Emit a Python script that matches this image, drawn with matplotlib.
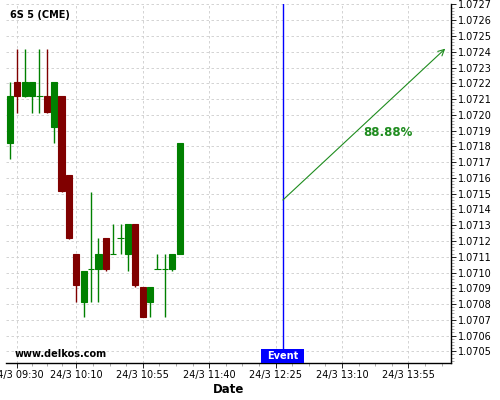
import datetime as dt
import numpy as np
import matplotlib
matplotlib.use('Agg')
import matplotlib.pyplot as plt
import matplotlib.dates as mdates
import matplotlib.transforms as mtransforms
from matplotlib.patches import Rectangle
from matplotlib.ticker import MultipleLocator, AutoMinorLocator, FormatStrFormatter, FixedLocator, FuncFormatter

# 5-minute candles, 6S (CME), 24/3
day = dt.date(2017, 3, 24)
times = ['09:25', '09:30', '09:35', '09:40', '09:45', '09:50', '09:55', '10:00',
         '10:05', '10:10', '10:15', '10:20', '10:25', '10:30', '10:35', '10:40',
         '10:45', '10:50', '10:55', '11:00', '11:05', '11:10', '11:15', '11:20']
opens = [1.07182, 1.07221, 1.07212, 1.07212, 1.07212, 1.07212, 1.07192, 1.07212,
         1.07162, 1.07112, 1.07081, 1.07102, 1.07102, 1.07122, 1.07112, 1.07122,
         1.07112, 1.07131, 1.07091, 1.07081, 1.07102, 1.07102, 1.07102, 1.07112]
highs = [1.07221, 1.07242, 1.07242, 1.07221, 1.07242, 1.07242, 1.07221, 1.07212,
         1.07162, 1.07112, 1.07101, 1.07151, 1.07122, 1.07122, 1.07131, 1.07131,
         1.07131, 1.07131, 1.07091, 1.07091, 1.07112, 1.07112, 1.07112, 1.07182]
lows = [1.07172, 1.07201, 1.07211, 1.07201, 1.07201, 1.07201, 1.07182, 1.07151,
        1.07121, 1.07081, 1.07072, 1.07081, 1.07081, 1.07101, 1.07112, 1.07112,
        1.07101, 1.07091, 1.07072, 1.07072, 1.07102, 1.07072, 1.07101, 1.07112]
closes = [1.07212, 1.07212, 1.07221, 1.07221, 1.07212, 1.07202, 1.07221, 1.07152,
          1.07122, 1.07092, 1.07101, 1.07102, 1.07112, 1.07102, 1.07112, 1.07122,
          1.07131, 1.07092, 1.07072, 1.07091, 1.07102, 1.07102, 1.07112, 1.07182]

event_time = '12:30'
arrow_start = ('12:30', 1.07146)
arrow_end = ('14:20', 1.07242)
arrow_text = ('13:41', 1.07189, '88.88%')

tick_times = ['09:30', '10:10', '10:55', '11:40', '12:25', '13:10', '13:55']


def to_num(hhmm):
    h, m = hhmm.split(':')
    return mdates.date2num(dt.datetime.combine(day, dt.time(int(h), int(m))))


x = np.array([to_num(t) for t in times])
o = np.array(opens)
h = np.array(highs)
l = np.array(lows)
c = np.array(closes)
colors = np.where(c >= o, '#008000', '#800000')

fig = plt.figure(figsize=(5, 4), dpi=100)
ax = fig.add_axes([0.0114, 0.0925, 0.8906, 0.8975])
ax.set_axisbelow(True)

minute = 1.0 / 1440
ax.vlines(x, l, h, colors=colors, linewidth=1, zorder=2)
ax.bar(x, c - o, width=4.2 * minute, bottom=o, color=colors, edgecolor=colors,
       linewidth=0.8, zorder=3)

# event marker
ex = to_num(event_time)
ax.axvline(ex, color='blue', linewidth=1, zorder=4)
trans = mtransforms.blended_transform_factory(ax.transData, ax.transAxes)
ax.add_patch(Rectangle((ex - 14.8 * minute, 0), 29.3 * minute, 0.039,
                       transform=trans, facecolor='blue', edgecolor='none', zorder=5))
ax.text(ex, 0.0195, 'Event', transform=trans, ha='center', va='center',
        color='white', fontsize=7, fontweight='bold', zorder=6)

# projection arrow
ax.annotate('', xy=(to_num(arrow_end[0]), arrow_end[1]),
            xytext=(to_num(arrow_start[0]), arrow_start[1]),
            arrowprops=dict(arrowstyle='->', color='#1e8c1e', lw=0.8,
                            mutation_scale=11, shrinkA=0, shrinkB=0), zorder=4)
ax.text(to_num(arrow_text[0]), arrow_text[1], arrow_text[2], ha='center', va='center',
        color='#1e8c1e', fontsize=8.5, fontweight='bold')

ax.text(0.0097, 0.969, '6S 5 (CME)', transform=ax.transAxes, fontsize=7,
        fontweight='bold', va='center', ha='left')
ax.text(0.021, 0.025, 'www.delkos.com', transform=ax.transAxes, fontsize=7,
        fontweight='bold', va='center', ha='left')

# axes limits and ticks
ax.set_xlim(to_num('09:30') - 7.86 * minute, to_num('09:30') + 293.9 * minute)
ax.set_ylim(1.070426, 1.072703)

major = [to_num(t) for t in tick_times]
minor = []
for a, b in zip(major[:-1], major[1:]):
    minor += list(np.linspace(a, b, 5)[1:-1])
step = (major[-1] - major[-2]) / 4
minor += [major[-1] + step, major[-1] + 2 * step]
ax.xaxis.set_major_locator(FixedLocator(major))
ax.xaxis.set_minor_locator(FixedLocator(minor))
ax.xaxis.set_major_formatter(FuncFormatter(
    lambda v, pos: '%d/%d %s' % (mdates.num2date(v).day, mdates.num2date(v).month,
                                 mdates.num2date(v).strftime('%H:%M'))))

ax.yaxis.tick_right()
ax.yaxis.set_major_locator(MultipleLocator(0.0001))
ax.yaxis.set_minor_locator(AutoMinorLocator(5))
ax.yaxis.set_major_formatter(FormatStrFormatter('%.4f'))

ax.tick_params(which='major', length=3.5, width=0.6, labelsize=7, pad=1.5)
ax.tick_params(which='minor', length=2, width=0.5, color='#888888')

for side in ['left', 'top']:
    ax.spines[side].set_visible(False)
for side in ['bottom', 'right']:
    ax.spines[side].set_linewidth(1)

ax.grid(True, which='major', color='#cccccc', linestyle=(0, (3, 3)), linewidth=0.6)
ax.set_xlabel('Date', fontsize=8.5, fontweight='bold', labelpad=2)

fig.savefig('out.png', dpi=100)
